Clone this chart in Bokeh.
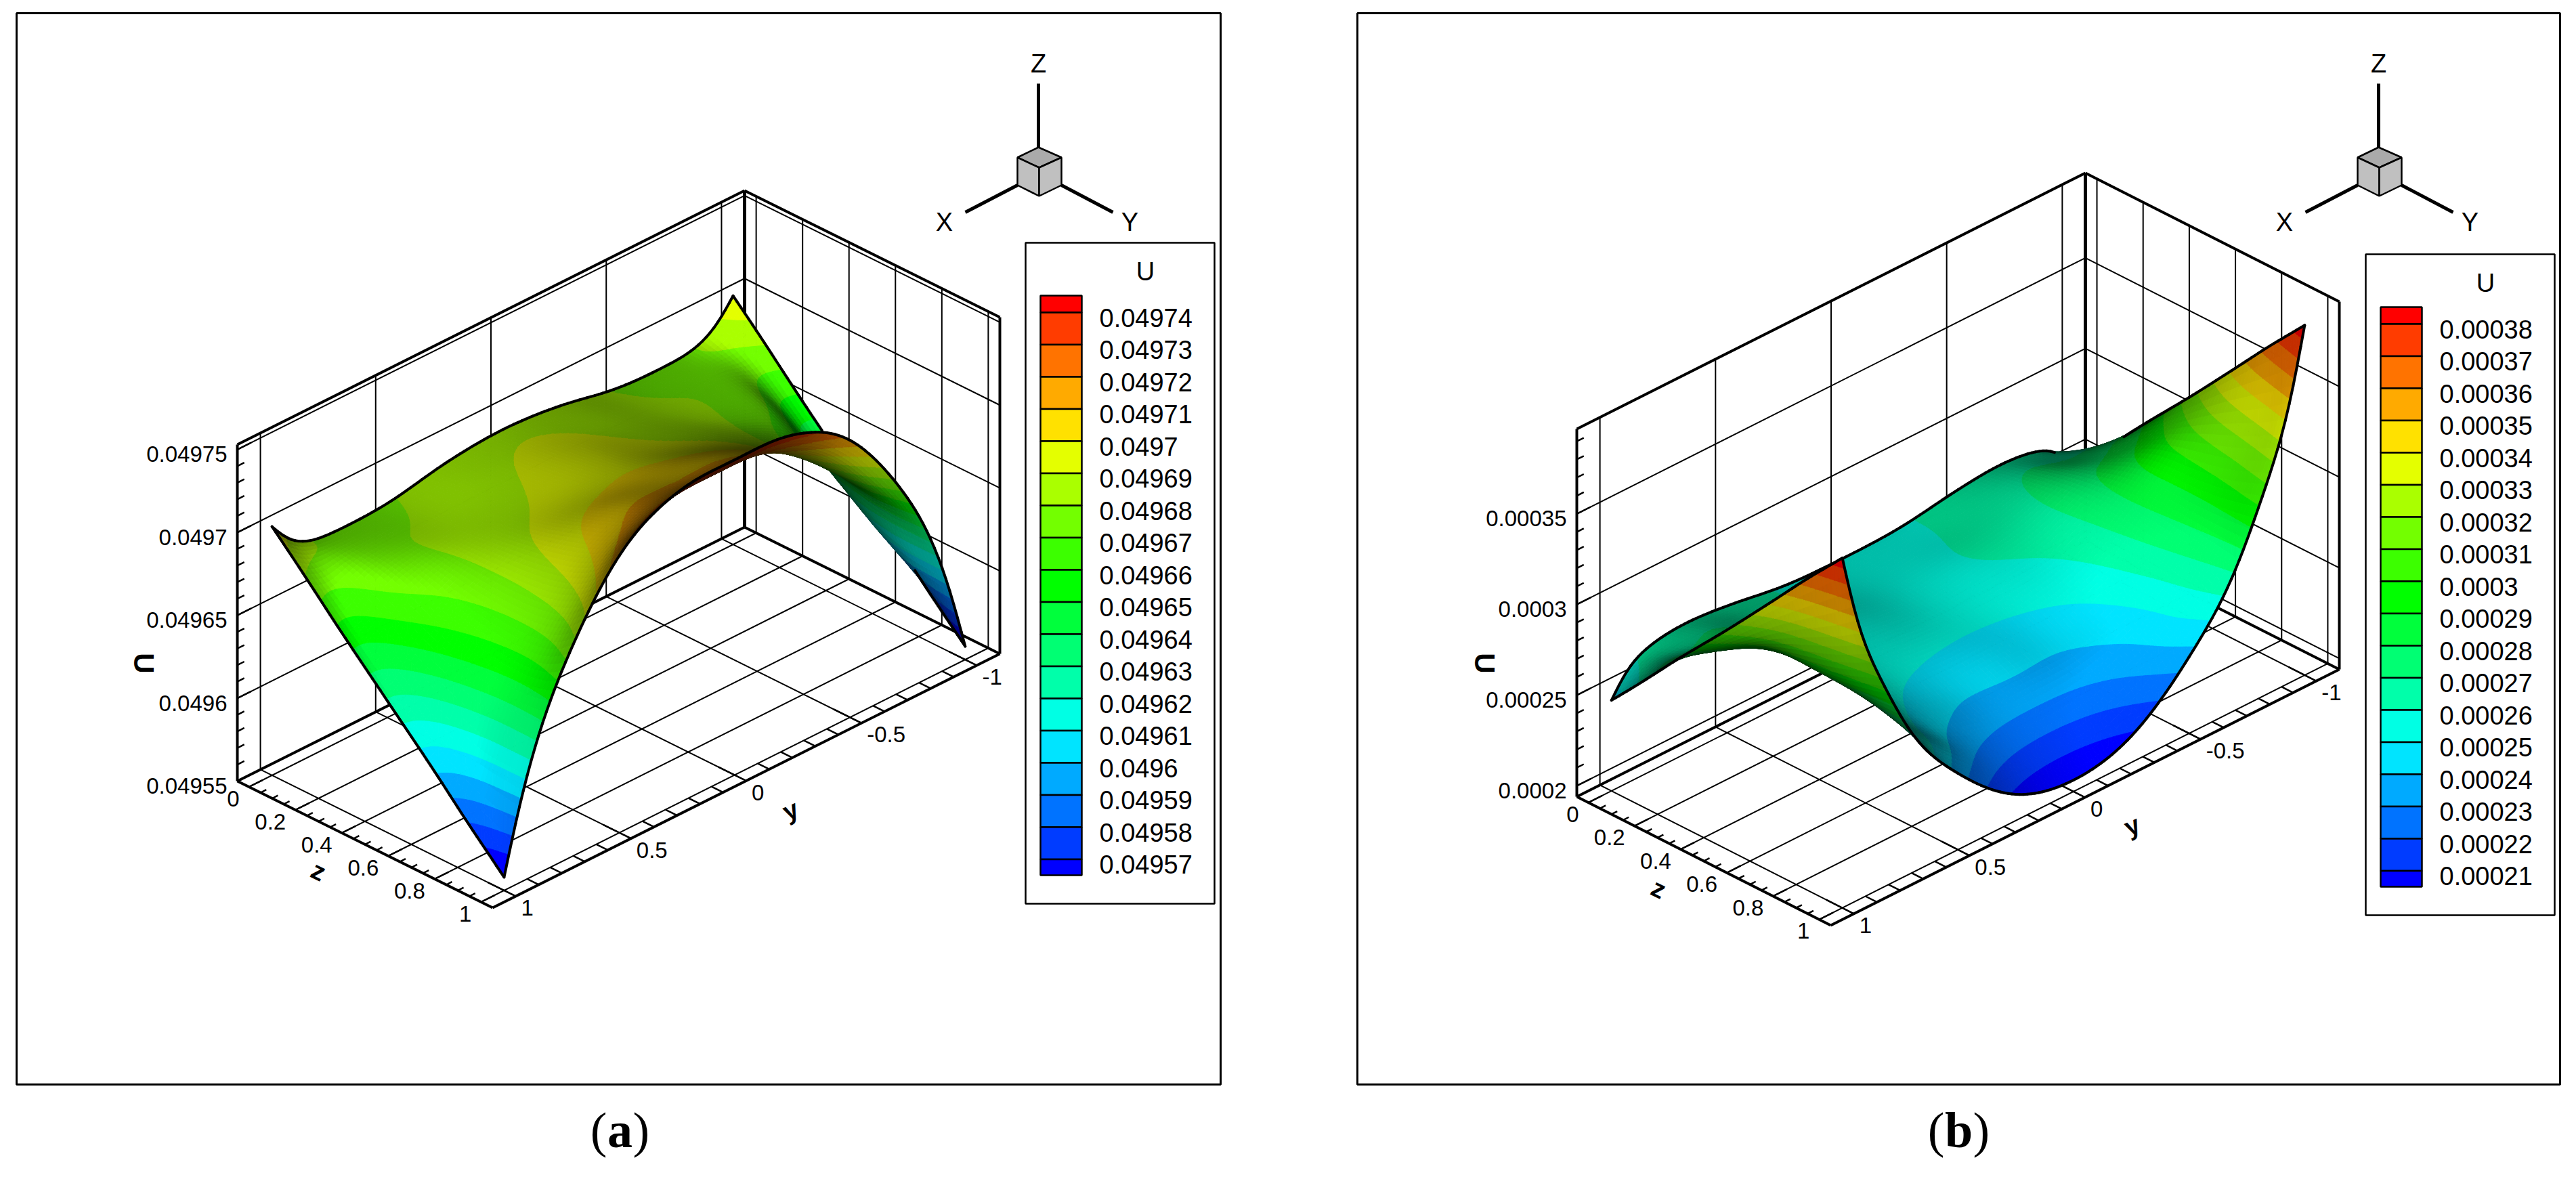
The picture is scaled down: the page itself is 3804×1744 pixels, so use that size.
import numpy as np
from bokeh.plotting import figure
from bokeh.models import Range1d
from bokeh.core.properties import value
from bokeh.embed import file_html
from bokeh.resources import INLINE

# ---------- data ----------
Y_NODES = [0, .25, .5, .7, .85, .95, 1]          # |y|, surface is mirrored about y=0
Z_NODES = [0, .1, .3, .5, .7, .85, .95, 1]

# panel (a): U = 0.049 + v * 1e-5, one list per |y|
A_Y000 = [68.9, 69.0, 69.4, 69.9, 70.7, 71.7, 73.0, 74.0]
A_Y025 = [68.6, 68.7, 68.9, 69.4, 70.6, 71.5, 72.7, 73.8]
A_Y050 = [67.9, 68.0, 68.2, 68.5, 68.9, 69.6, 70.7, 71.8]
A_Y070 = [67.8, 67.9, 67.8, 67.0, 66.5, 66.5, 67.0, 67.8]
A_Y085 = [68.0, 67.9, 67.0, 65.2, 64.0, 63.5, 63.5, 63.5]
A_Y095 = [68.9, 67.9, 65.2, 62.6, 60.0, 59.0, 59.0, 59.0]
A_Y100 = [70.0, 68.6, 65.7, 62.9, 60.1, 57.9, 56.5, 55.8]

# panel (b): U = v * 1e-5
B_Y000 = [25.8, 25.7, 25.5, 25.1, 24.3, 22.9, 21.0, 20.0]
B_Y025 = [25.9, 25.9, 26.0, 25.4, 24.2, 23.3, 21.8, 20.8]
B_Y050 = [26.4, 26.5, 26.6, 26.2, 25.5, 24.8, 24.5, 23.6]
B_Y070 = [26.6, 27.0, 27.7, 28.0, 27.9, 27.6, 27.2, 27.0]
B_Y085 = [26.3, 26.6, 28.0, 29.7, 30.0, 30.5, 31.2, 31.5]
B_Y095 = [25.6, 26.5, 28.6, 30.5, 32.8, 34.0, 34.7, 35.0]
B_Y100 = [24.4, 25.8, 28.7, 31.5, 34.4, 36.6, 38.0, 38.7]

BAND_COLORS = [(255, 0, 0), (255, 60, 0), (255, 115, 0), (255, 170, 0), (255, 225, 0), (228, 255, 0),
               (170, 255, 0), (115, 255, 0), (60, 255, 0), (0, 255, 0), (0, 255, 60), (0, 255, 115),
               (0, 255, 170), (0, 255, 228), (0, 228, 255), (0, 170, 255), (0, 115, 255), (0, 60, 255),
               (0, 0, 255)]

LEVELS_A = [.04974, .04973, .04972, .04971, .0497, .04969, .04968, .04967, .04966, .04965, .04964,
            .04963, .04962, .04961, .0496, .04959, .04958, .04957]
LEVEL_LABELS_A = ["0.04974", "0.04973", "0.04972", "0.04971", "0.0497", "0.04969", "0.04968", "0.04967",
                  "0.04966", "0.04965", "0.04964", "0.04963", "0.04962", "0.04961", "0.0496", "0.04959",
                  "0.04958", "0.04957"]
LEVELS_B = [.00038, .00037, .00036, .00035, .00034, .00033, .00032, .00031, .0003, .00029, .00028,
            .00027, .00026, .00025, .00024, .00023, .00022, .00021]
LEVEL_LABELS_B = ["0.00038", "0.00037", "0.00036", "0.00035", "0.00034", "0.00033", "0.00032", "0.00031",
                  "0.0003", "0.00029", "0.00028", "0.00027", "0.00026", "0.00025", "0.00024", "0.00023",
                  "0.00022", "0.00021"]

Y_TICKS = [-1, -.5, 0, .5, 1]
Y_TICK_LABELS = ["-1", "-0.5", "0", "0.5", "1"]
Z_TICKS = [0, .2, .4, .6, .8, 1]
Z_TICK_LABELS = ["0", "0.2", "0.4", "0.6", "0.8", "1"]
U_TICKS_A = [.04955, .0496, .04965, .0497, .04975]
U_TICK_LABELS_A = ["0.04955", "0.0496", "0.04965", "0.0497", "0.04975"]
U_TICKS_B = [.0002, .00025, .0003, .00035]
U_TICK_LABELS_B = ["0.0002", "0.00025", "0.0003", "0.00035"]

FONT = value("Liberation Sans")

p = figure(width=3788, height=1728, x_range=Range1d(0, 3788), y_range=Range1d(1728, 0),
           toolbar_location=None, output_backend="svg", min_border=0)
p.xaxis.visible = False
p.yaxis.visible = False
p.grid.visible = False
p.outline_line_color = None


def hermite(xs, f, xn):
    """cubic resampling along axis 0: only smooths the drawing of the read nodes"""
    xs = np.asarray(xs, float)
    h = np.diff(xs)
    sh = (-1,) + (1,) * (f.ndim - 1)
    d = np.diff(f, axis=0) / h.reshape(sh)
    m = np.zeros_like(f)
    for i in range(1, len(xs) - 1):
        m[i] = (h[i] * d[i - 1] + h[i - 1] * d[i]) / (h[i] + h[i - 1])
    m[0] = d[0] + (d[0] - m[1])
    m[-1] = d[-1] + (d[-1] - m[-2])
    k = np.clip(np.searchsorted(xs, xn, side="right") - 1, 0, len(xs) - 2)
    t = (xn - xs[k]) / h[k]
    t, hk = t.reshape(sh), h[k].reshape(sh)
    return ((2 * t**3 - 3 * t**2 + 1) * f[k] + (t**3 - 2 * t**2 + t) * hk * m[k]
            + (-2 * t**3 + 3 * t**2) * f[k + 1] + (t**3 - t**2) * hk * m[k + 1])


def relax(U, interior, edge):
    """light smoothing of the drawn mesh; corners and the y = +-1 edges stay put"""
    U = U.copy()
    for _ in range(edge):
        for j in (0, -1):
            U[1:-1, j] = (U[:-2, j] + U[2:, j] + 2 * U[1:-1, j]) / 4
    for _ in range(interior):
        U[1:-1, 1:-1] = (U[:-2, 1:-1] + U[2:, 1:-1] + U[1:-1, :-2] + U[1:-1, 2:] + 4 * U[1:-1, 1:-1]) / 8
    return U


def clip(poly, lim, upper):
    out = []
    for a in range(len(poly)):
        P0, P1 = poly[a], poly[(a + 1) % len(poly)]
        in0 = P0[2] <= lim if upper else P0[2] >= lim
        in1 = P1[2] <= lim if upper else P1[2] >= lim
        if in0:
            out.append(P0)
        if in0 != in1:
            t = (lim - P0[2]) / (P1[2] - P0[2])
            out.append((P0[0] + t * (P1[0] - P0[0]), P0[1] + t * (P1[1] - P0[1]), lim))
    return out


def panel(cols, offset, scale, levels, labels, uticks, ulabels, L, F, R, H, umin, umax,
          dx, dy, U_pos, z_pos, y_pos):
    Lx, Ly = L
    Fx, Fy = F
    Rx, Ry = R

    def P(y, z, u):
        y, z, u = np.asarray(y, float), np.asarray(z, float), np.asarray(u, float)
        fy = (1.1 - y) / 2.2
        fz = (z + .05) / 1.1
        return (Lx + fy * (Rx - Fx) + fz * (Fx - Lx),
                Ly + fy * (Ry - Fy) + fz * (Fy - Ly) - (u - umin) / (umax - umin) * H)

    def lines(segs, width):
        xs, ys = [], []
        for a, b in segs:
            x, y = P([a[0], b[0]], [a[1], b[1]], [a[2], b[2]])
            xs.append(list(x))
            ys.append(list(y))
        p.multi_line(xs, ys, line_color="black", line_width=width)

    Y0, Y1, Z0, Z1 = 1.1, -1.1, -.05, 1.05
    # walls and floor grid
    grid = []
    for u in uticks:
        if umin < u <= umax:
            grid += [((Y0, Z0, u), (Y1, Z0, u)), ((Y1, Z0, u), (Y1, Z1, u))]
    for y in Y_TICKS:
        grid += [((y, Z0, umin), (y, Z0, umax)), ((y, Z0, umin), (y, Z1, umin))]
    for z in Z_TICKS:
        grid += [((Y1, z, umin), (Y1, z, umax)), ((Y0, z, umin), (Y1, z, umin))]
    lines(grid, 2)
    lines([((Y0, Z0, umin), (Y1, Z0, umin)), ((Y1, Z0, umin), (Y1, Z1, umin)),
           ((Y0, Z0, umax), (Y1, Z0, umax)), ((Y1, Z0, umax), (Y1, Z1, umax)),
           ((Y0, Z0, umin), (Y0, Z1, umin)), ((Y0, Z1, umin), (Y1, Z1, umin)),
           ((Y0, Z0, umin), (Y0, Z0, umax)), ((Y1, Z1, umin), (Y1, Z1, umax))], 4)
    lines([((Y1, Z0, umin), (Y1, Z0, umax))], 5)

    # tick marks
    ticks = []
    uu = np.array(uticks)
    stp = (uu[1] - uu[0]) / 5
    for k in range(-5, 40):
        u = uu[0] + k * stp
        if umin <= u <= umax:
            ticks.append(((Y0, Z0, u), (Y0 - (.06 if k % 5 == 0 else .03), Z0, u)))
    for k in range(0, 21):
        z = k * .05
        ticks.append(((Y0, z, umin), (Y0 - (.06 if k % 4 == 0 else .025), z, umin)))
    for k in range(-10, 11):
        y = k * .1
        ticks.append(((y, Z1, umin), (y, Z1 - (.12 if k % 5 == 0 else .05), umin)))
    lines(ticks, 2.5)

    # surface
    ynodes = np.array(Y_NODES)
    full_y = np.r_[-ynodes[:0:-1], ynodes]
    half = np.array(cols)
    table = np.vstack([half[:0:-1], half])
    Um = offset + table * scale
    yf = np.linspace(-1, 1, 121)
    zf = np.linspace(0, 1, 61)
    U = hermite(full_y, Um, yf)
    U = hermite(Z_NODES, U.T, zf).T
    U = relax(U, 30, 20)
    Yg, Zg = np.meshgrid(yf, zf, indexing="ij")
    Sx, Sy = P(Yg, Zg, U)

    # view depth of orthographic projection, used for the shading
    ay = (-(Rx - Fx) / 2.2, (Ry - Fy) / 2.2)
    az = ((Fx - Lx) / 1.1, -(Fy - Ly) / 1.1)
    ah = (0.0, 1.0)
    A = -(ay[0] * az[0] + ay[1] * az[1])
    B = -(ay[1] * ah[1])
    C = -(az[1] * ah[1])
    dpy, dpz, dph = np.sqrt(abs(A * B / C)), np.sqrt(abs(A * C / B)), np.sqrt(abs(B * C / A))
    hpx = (U - umin) / (umax - umin) * H
    hy = np.gradient(hpx, yf, axis=0)
    hz = np.gradient(hpx, zf, axis=1)
    Vy = np.stack([ay[0] + 0 * hy, ay[1] + hy, dpy + dph * hy], -1)
    Vz = np.stack([az[0] + 0 * hz, az[1] + hz, dpz + dph * hz], -1)
    n = np.cross(Vy, Vz)
    cos = np.abs(n[..., 2]) / np.linalg.norm(n, axis=-1)
    # soften the shading a little
    for _ in range(4):
        pad = np.pad(cos, 1, mode="edge")
        cos = (pad[:-2, 1:-1] + pad[2:, 1:-1] + pad[1:-1, :-2] + pad[1:-1, 2:] + 2 * cos) / 6
    cosc = .25 * (cos[:-1, :-1] + cos[1:, :-1] + cos[:-1, 1:] + cos[1:, 1:])
    shade = np.clip(.25 + .9 * cosc, .3, 1) * np.clip(.7 + .8 * cosc, 0, 1)
    pal = np.array(BAND_COLORS, float)
    lev = np.array(levels)
    cidx = (lev[None, None, :] > U[..., None]).sum(-1)

    ni, nj = U.shape[0] - 1, U.shape[1] - 1
    qx = np.stack([Sx[:-1, :-1], Sx[1:, :-1], Sx[1:, 1:], Sx[:-1, 1:]], -1).reshape(-1, 4)
    qy = np.stack([Sy[:-1, :-1], Sy[1:, :-1], Sy[1:, 1:], Sy[:-1, 1:]], -1).reshape(-1, 4)

    px_, py_, col_ = [], [], []
    for i in range(ni):
        for j in range(nj):
            corners = [(i, j), (i + 1, j), (i + 1, j + 1), (i, j + 1)]
            ks = [int(cidx[c]) for c in corners]
            pts = [(float(Sx[c]), float(Sy[c]), float(U[c])) for c in corners]
            s = shade[i, j]
            if min(ks) == max(ks):
                polys = [(pts, ks[0])]
            else:
                polys = []
                for tri in ([pts[0], pts[1], pts[2]], [pts[0], pts[2], pts[3]]):
                    for k in range(min(ks), max(ks) + 1):
                        poly = tri
                        if k > 0:
                            poly = clip(poly, float(lev[k - 1]), True)
                        if k < len(lev) and poly:
                            poly = clip(poly, float(lev[k]), False)
                        if len(poly) >= 3:
                            polys.append((poly, k))
            for poly, k in polys:
                px_.append([round(q[0], 1) for q in poly])
                py_.append([round(q[1], 1) for q in poly])
                c = (pal[k] * s).astype(int)
                col_.append("#%02x%02x%02x" % (c[0], c[1], c[2]))
    p.patches(px_, py_, fill_color=col_, line_color=col_, line_width=1)

    # boundary lines: hide the stretches that nearer cells cover
    ci, cj = np.meshgrid(np.arange(ni), np.arange(nj), indexing="ij")
    ci, cj = ci.ravel(), cj.ravel()

    def hidden(px, py, i, j):
        mask = ((ci > i) | ((ci == i) & (cj > j))) & ~((np.abs(ci - i) <= 3) & (np.abs(cj - j) <= 3))
        x, y = qx[mask], qy[mask]
        c = []
        for a in range(4):
            b = (a + 1) % 4
            c.append((x[:, b] - x[:, a]) * (py - y[:, a]) - (y[:, b] - y[:, a]) * (px - x[:, a]))
        c = np.array(c)
        return bool((np.all(c > 0, axis=0) | np.all(c < 0, axis=0)).any())

    exs, eys = [], []

    def edge(ii, jj):
        for a in range(len(ii) - 1):
            x0, y0, x1, y1 = Sx[ii[a], jj[a]], Sy[ii[a], jj[a]], Sx[ii[a + 1], jj[a + 1]], Sy[ii[a + 1], jj[a + 1]]
            if not hidden(.5 * (x0 + x1), .5 * (y0 + y1), min(min(ii[a], ii[a + 1]), ni - 1), min(min(jj[a], jj[a + 1]), nj - 1)):
                exs.append([float(x0), float(x1)])
                eys.append([float(y0), float(y1)])

    edge(list(range(ni + 1)), [0] * (ni + 1))
    edge(list(range(ni + 1)), [nj] * (ni + 1))
    edge([0] * (nj + 1), list(range(nj + 1)))
    edge([ni] * (nj + 1), list(range(nj + 1)))
    p.multi_line(exs, eys, line_color="black", line_width=4, line_cap="round")

    # tick labels
    ux, uy = P([Y0] * len(uticks), [Z0] * len(uticks), uticks)
    p.text(list(ux - 15), list(uy + 7), ulabels, text_align="right", text_baseline="middle",
           text_font=FONT, text_font_size=value("33px"), text_color="black")
    zx, zy = P([Y0] * len(Z_TICKS), Z_TICKS, [umin] * len(Z_TICKS))
    p.text(list(zx - 14), list(zy + 17), Z_TICK_LABELS, text_align="right", text_baseline="middle",
           text_font=FONT, text_font_size=value("33px"), text_color="black")
    yx, yy = P(Y_TICKS, [Z1] * 5, [umin] * 5)
    p.text(list(yx + 8), list(yy + 17), Y_TICK_LABELS, text_align="left", text_baseline="middle",
           text_font=FONT, text_font_size=value("33px"), text_color="black")
    # axis titles
    p.text([U_pos[0]], [U_pos[1]], ["U"], angle=-np.pi / 2, text_align="center", text_baseline="middle",
           text_font=FONT, text_font_size=value("42px"), text_font_style="bold", text_color="black")
    p.text([z_pos[0]], [z_pos[1]], ["z"], angle=-.45, text_align="center", text_baseline="middle",
           text_font=FONT, text_font_size=value("38px"), text_font_style="bold", text_color="black")
    p.text([y_pos[0]], [y_pos[1]], ["y"], angle=.4, text_align="center", text_baseline="middle",
           text_font=FONT, text_font_size=value("38px"), text_font_style="bold", text_color="black")

    # triad
    tx = lambda v: [a + dx for a in v]
    p.patches([tx([1533, 1567, 1534, 1502])], [[217, 232, 247, 232]], fill_color="#aaaaaa",
              line_color="black", line_width=2.5)
    p.patches([tx([1502, 1534, 1534, 1502]), tx([1534, 1567, 1567, 1534])],
              [[232, 247, 289, 273], [247, 232, 273, 289]], fill_color="#c0c0c0",
              line_color="black", line_width=2.5)
    p.multi_line([tx([1533, 1533]), tx([1502, 1425]), tx([1567, 1643])],
                 [[123, 217], [273, 313], [273, 313]], line_color="black", line_width=5)
    p.text(tx([1533, 1394, 1668]), [93, 327, 327], ["Z", "X", "Y"], text_align="center", text_baseline="middle",
           text_font=FONT, text_font_size=value("38px"), text_color="black")

    # legend
    p.quad(left=[1514 + dx], right=[1793 + dx], top=[358 + dy], bottom=[1334 + dy], fill_color="white",
           line_color="black", line_width=2.5)
    line0, step = 461 + dy, 47.5
    lv = np.arange(len(levels))
    tops = np.r_[436 + dy, line0 + lv * step]
    bots = np.r_[line0 + lv * step, 1292 + dy]
    p.quad(left=[1536 + dx] * 19, right=[1597 + dx] * 19, top=list(tops), bottom=list(bots),
           fill_color=["#%02x%02x%02x" % c for c in BAND_COLORS], line_color="black", line_width=2.5)
    p.text([1623 + dx] * len(labels), list(line0 + lv * step + 7.5), labels, text_align="left", text_baseline="middle",
           text_font=FONT, text_font_size=value("38px"), text_color="black")
    p.text([1691 + dx], [400 + dy], ["U"], text_align="center", text_baseline="middle",
           text_font=FONT, text_font_size=value("38px"), text_color="black")


# frames
p.quad(left=[24, 2004], right=[1802, 3780], top=[19, 19], bottom=[1601, 1601], fill_color=None,
       line_color="black", line_width=3)

panel([A_Y000, A_Y025, A_Y050, A_Y070, A_Y085, A_Y095, A_Y100], .049, 1e-5, LEVELS_A, LEVEL_LABELS_A,
      U_TICKS_A, U_TICK_LABELS_A, (350, 1153), (727, 1340), (1476, 965), 497, .04955, .049753,
      0, 0, (212, 979), (470, 1286), (1167, 1196))
panel([B_Y000, B_Y025, B_Y050, B_Y070, B_Y085, B_Y095, B_Y100], 0.0, 1e-5, LEVELS_B, LEVEL_LABELS_B,
      U_TICKS_B, U_TICK_LABELS_B, (2328, 1176), (2703, 1366), (3454, 988), 543, .000194, .0003968,
      1979, 17, (2192, 979), (2449, 1312), (3148, 1219))

# captions
SERIF = value("Liberation Serif")
for cx, letter in ((915, "a"), (2892, "b")):
    hw = 19 if letter == "a" else 21
    p.text([cx - hw], [1668], ["("], text_align="right", text_baseline="middle", text_font=SERIF,
           text_font_size=value("74px"), text_color="black")
    p.text([cx], [1668], [letter], text_align="center", text_baseline="middle", text_font=SERIF,
           text_font_size=value("74px"), text_font_style="bold", text_color="black")
    p.text([cx + hw], [1668], [")"], text_align="left", text_baseline="middle", text_font=SERIF,
           text_font_size=value("74px"), text_color="black")

open("out.html", "w").write(file_html(p, INLINE))
